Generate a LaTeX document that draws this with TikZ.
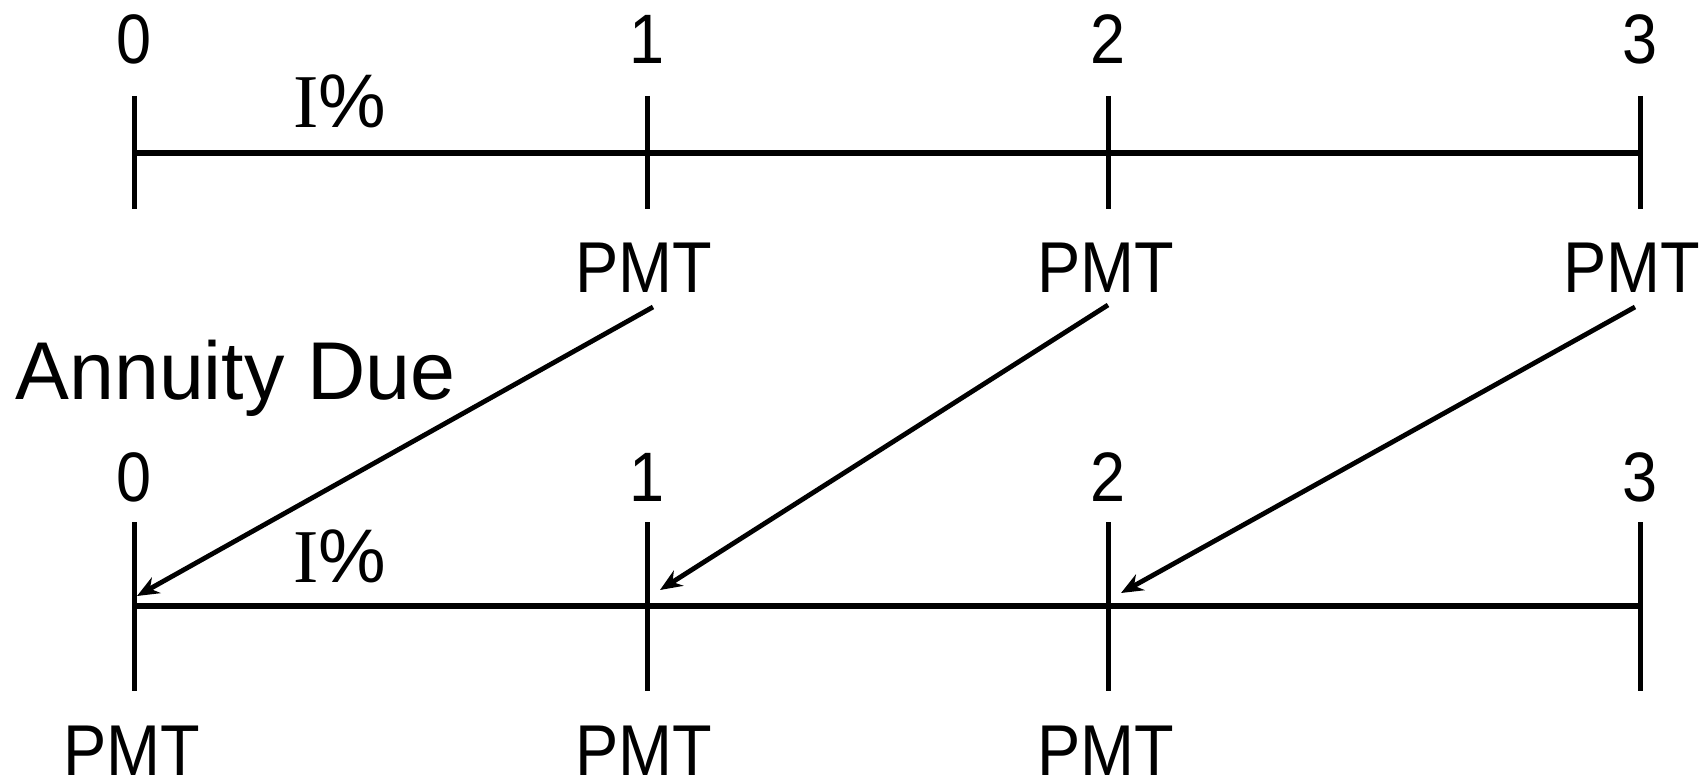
\documentclass[tikz,border=0pt]{standalone}
\usepackage{fontspec}
\setmainfont{Liberation Sans}
\newfontfamily\serifI{Liberation Serif}
\newfontfamily\narrowsans[FakeStretch=0.9]{Liberation Sans}
\newfontfamily\titlesans[FakeStretch=0.985]{Liberation Sans}
\usetikzlibrary{arrows.meta}
\begin{document}
\begin{tikzpicture}[x=0.5pt,y=-0.5pt,
  lbl/.style={font=\narrowsans\fontsize{36}{40}\selectfont, inner sep=0pt, anchor=base},
  dig/.style={font=\narrowsans\fontsize{35}{40}\selectfont, inner sep=0pt, anchor=base},
  pct/.style={font=\fontsize{38}{42}\selectfont, inner sep=0pt, anchor=base},
  ttl/.style={font=\titlesans\fontsize{41}{48}\selectfont, inner sep=0pt, anchor=base west},
  tickline/.style={line width=2.5pt},
  axisline/.style={line width=3pt},
  arr/.style={line width=2.4pt, -{Stealth[length=11pt,width=9pt]}}]
\useasboundingbox (0,0) rectangle (1706,781);
% top timeline
\draw[axisline] (134,153) -- (1640,153);
\foreach \x in {134,647,1108,1640} \draw[tickline] (\x,96) -- (\x,209);
\node[dig] (t0) at (134,64) {0};
\node[dig] (t1) at (647,64) {1};
\node[dig] (t2) at (1108,64) {2};
\node[dig] (t3) at (1640,64) {3};
\node[pct] (ti) at (340,127) {{\serifI I}\%};
\node[lbl] (p1) at (644,292) {PMT};
\node[lbl] (p2) at (1106,292) {PMT};
\node[lbl] (p3) at (1632,292) {PMT};
% title
\node[ttl] (title) at (15,399) {Annuity Due};
% bottom timeline
\draw[axisline] (134,606) -- (1640,606);
\foreach \x in {134,647,1108,1640} \draw[tickline] (\x,522) -- (\x,691);
\node[dig] (b0) at (134,501) {0};
\node[dig] (b1) at (647,501) {1};
\node[dig] (b2) at (1108,501) {2};
\node[dig] (b3) at (1640,501) {3};
\node[pct] (bi) at (340,582) {{\serifI I}\%};
\node[lbl] (q0) at (132,775) {PMT};
\node[lbl] (q1) at (644,775) {PMT};
\node[lbl] (q2) at (1106,775) {PMT};
% arrows
\coordinate (s1) at (653,307);
\coordinate (s2) at (1108,305);
\coordinate (s3) at (1635,307);
\coordinate (e1) at (137,596);
\coordinate (e2) at (660,590);
\coordinate (e3) at (1121,593);
\draw[arr] (s1) -- (e1);
\draw[arr] (s2) -- (e2);
\draw[arr] (s3) -- (e3);
\end{tikzpicture}
\end{document}
